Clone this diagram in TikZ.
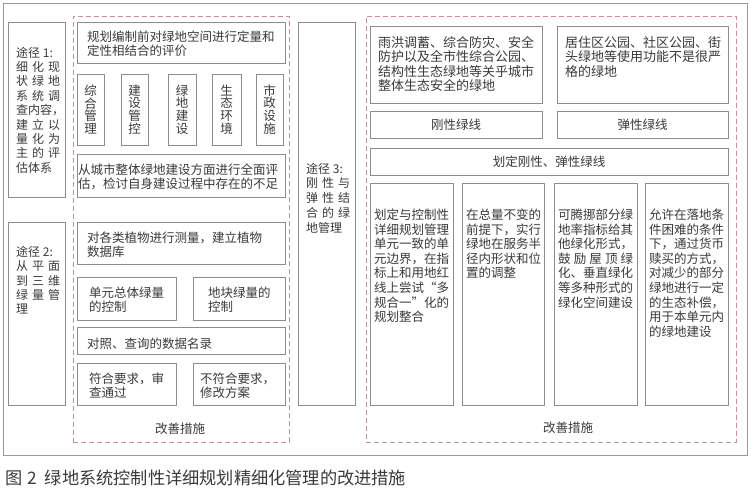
\documentclass[tikz,border=0pt]{standalone}
\usepackage{fontspec}
\setmainfont{Noto Sans CJK SC}
\usetikzlibrary{fit}
\definecolor{txtc}{HTML}{3A3A3A}
\definecolor{boxc}{HTML}{8C8C8C}
\definecolor{dashc}{HTML}{C6909B}
\definecolor{framec}{HTML}{9A9A9A}
\newcommand\jl[1]{\makebox[44pt][s]{#1}}
\newcommand\jc[1]{\makebox[75pt][s]{#1}}
\tikzset{
  box/.style={draw=boxc, line width=0.9pt, inner sep=0pt, fill=white},
  dbox/.style={draw=dashc, line width=0.9pt, dash pattern=on 5pt off 3pt, inner sep=0pt},
  framebox/.style={draw=framec, line width=0.9pt, inner sep=0pt},
  txt/.style={text=txtc, inner sep=0pt, align=left, anchor=north west, font=\fontsize{12.5}{14.5}\selectfont},
  txtb/.style={text=txtc, inner sep=0pt, align=left, anchor=north west, font=\fontsize{13}{14.2}\selectfont},
  ctxt/.style={text=txtc, inner sep=0pt, align=left, anchor=north west, font=\fontsize{12.5}{14.6}\selectfont},
  vtxt/.style={text=txtc, inner sep=0pt, align=center, font=\fontsize{12.5}{12.8}\selectfont},
  ptxt/.style={text=txtc, inner sep=0pt, align=left, anchor=north west, font=\fontsize{12}{14.4}\selectfont},
  lbl/.style={text=txtc, inner sep=0pt, font=\fontsize{12.5}{14.5}\selectfont},
  captxt/.style={text=txtc, inner sep=0pt, anchor=base west, font=\fontsize{17.2}{20}\selectfont},
}
\begin{document}
\begin{tikzpicture}[x=1pt, y=-1pt]
\useasboundingbox[fill=white] (0,0) rectangle (751,489);
% outer frame
\node[framebox, fit={(3,3)(747,455)}] (outer) {};
% ---------- left part ----------
\node[dbox, fit={(73,16)(289,442)}] (d1) {};
\node[box, fit={(8,22)(65,197)}] (p1) {};
\node[ptxt] (p1t) at (16,46.7) {途径 1:\\\jl{细\hfill 化\hfill 现}\\\jl{状\hfill 绿\hfill 地}\\\jl{系\hfill 统\hfill 调}\\查内容，\\\jl{建\hfill 立\hfill 以}\\\jl{量\hfill 化\hfill 为}\\\jl{主\hfill 的\hfill 评}\\估体系};
\node[box, fit={(77,22)(285,63)}] (a1) {};
\node[txt] (a1t) at (87,30.7) {规划编制前对绿地空间进行定量和\\定性相结合的评价};
\node[box, fit={(77,74)(104,145)}] (v1) {};
\node[box, fit={(121,74)(148,145)}] (v2) {};
\node[box, fit={(168,74)(196,145)}] (v3) {};
\node[box, fit={(212,74)(241,145)}] (v4) {};
\node[box, fit={(256,74)(283,145)}] (v5) {};
\node[vtxt] (v1t) at (v1.center) {综\\合\\管\\理};
\node[vtxt] (v2t) at (v2.center) {建\\设\\管\\控};
\node[vtxt] (v3t) at (v3.center) {绿\\地\\建\\设};
\node[vtxt] (v4t) at (v4.center) {生\\态\\环\\境};
\node[vtxt] (v5t) at (v5.center) {市\\政\\设\\施};
\node[box, fit={(77,154)(285,197)}] (a3) {};
\node[txt, font=\fontsize{12.5}{14}\selectfont] (a3t) at (78,163.7) {从城市整体绿地建设方面进行全面评\\估，检讨自身建设过程中存在的不足};
\node[box, fit={(8,222)(65,405)}] (p2) {};
\node[ptxt] (p2t) at (16,246) {途径 2:\\\jl{从\hfill 平\hfill 面}\\\jl{到\hfill 三\hfill 维}\\\jl{绿\hfill 量\hfill 管}\\理};
\node[box, fit={(77,222)(285,264)}] (b1) {};
\node[txt, font=\fontsize{12.5}{14}\selectfont] (b1t) at (87,231.7) {对各类植物进行测量，建立植物\\数据库};
\node[box, fit={(77,277)(176,320)}] (b2) {};
\node[txt, font=\fontsize{12.5}{14}\selectfont] (b2t) at (89,286.7) {单元总体绿量\\的控制};
\node[box, fit={(193,277)(285,320)}] (b3) {};
\node[txt, font=\fontsize{12.5}{14}\selectfont] (b3t) at (208,286.7) {地块绿量的\\控制};
\node[box, fit={(77,327)(285,354)}] (b4) {};
\node[txt] (b4t) at (87,337.7) {对照、查询的数据名录};
\node[box, fit={(77,363)(176,405)}] (b5) {};
\node[txt, font=\fontsize{12.5}{14}\selectfont] (b5t) at (89,372.7) {符合要求，审\\查通过};
\node[box, fit={(193,363)(285,405)}] (b6) {};
\node[txt, font=\fontsize{12.5}{14}\selectfont] (b6t) at (200,372.7) {不符合要求，\\修改方案};
\node[lbl] (l1) at (180,429) {改善措施};
% ---------- middle ----------
\node[box, fit={(298,22)(355,405)}] (p3) {};
\node[ptxt, font=\fontsize{12}{14.75}\selectfont] (p3t) at (306,162.7) {途径 3:\\\jl{刚\hfill 性\hfill 与}\\\jl{弹\hfill 性\hfill 结}\\\jl{合\hfill 的\hfill 绿}\\地管理};
% ---------- right part ----------
\node[dbox, fit={(366,16)(736,442)}] (d2) {};
\node[box, fit={(370,26)(542,103)}] (c1) {};
\node[txtb] (c1t) at (378,36.5) {雨洪调蓄、综合防灾、安全\\防护以及全市性综合公园、\\结构性生态绿地等关乎城市\\整体生态安全的绿地};
\node[box, fit={(557,26)(728,103)}] (c2) {};
\node[txtb] (c2t) at (565,36.5) {居住区公园、社区公园、街\\头绿地等使用功能不是很严\\格的绿地};
\node[box, fit={(370,111)(542,138)}] (c3) {};
\node[lbl] (c3t) at (c3.center) {刚性绿线};
\node[box, fit={(557,111)(728,138)}] (c4) {};
\node[lbl] (c4t) at (c4.center) {弹性绿线};
\node[box, fit={(370,148)(728,175)}] (c5) {};
\node[lbl] (c5t) at (c5.center) {划定刚性、弹性绿线};
\node[box, fit={(370,183)(453,405)}] (k1) {};
\node[box, fit={(462,183)(544,405)}] (k2) {};
\node[box, fit={(554,183)(637,405)}] (k3) {};
\node[box, fit={(645,183)(728,405)}] (k4) {};
\node[ctxt] (k1t) at (374,208.7) {划定与控制性\\详细规划管理\\单元一致的单\\元边界，在指\\标上和用地红\\线上尝试“多\\规合一”化的\\规划整合};
\node[ctxt] (k2t) at (466,208.7) {在总量不变的\\前提下，实行\\绿地在服务半\\径内形状和位\\置的调整};
\node[ctxt] (k3t) at (558,208.7) {可腾挪部分绿\\地率指标给其\\他绿化形式，\\\jc{鼓\hfill 励\hfill 屋\hfill 顶\hfill 绿}\\化、垂直绿化\\等多种形式的\\绿化空间建设};
\node[ctxt] (k4t) at (649,208.7) {允许在落地条\\件困难的条件\\下，通过货币\\赎买的方式，\\对减少的部分\\绿地进行一定\\的生态补偿，\\用于本单元内\\的绿地建设};
\node[lbl] (l2) at (568,428) {改善措施};
% caption
\node[captxt] (caption) at (5,484.5) {图\hspace{5pt}2\hspace{8pt}绿地系统控制性详细规划精细化管理的改进措施};
\end{tikzpicture}
\end{document}
